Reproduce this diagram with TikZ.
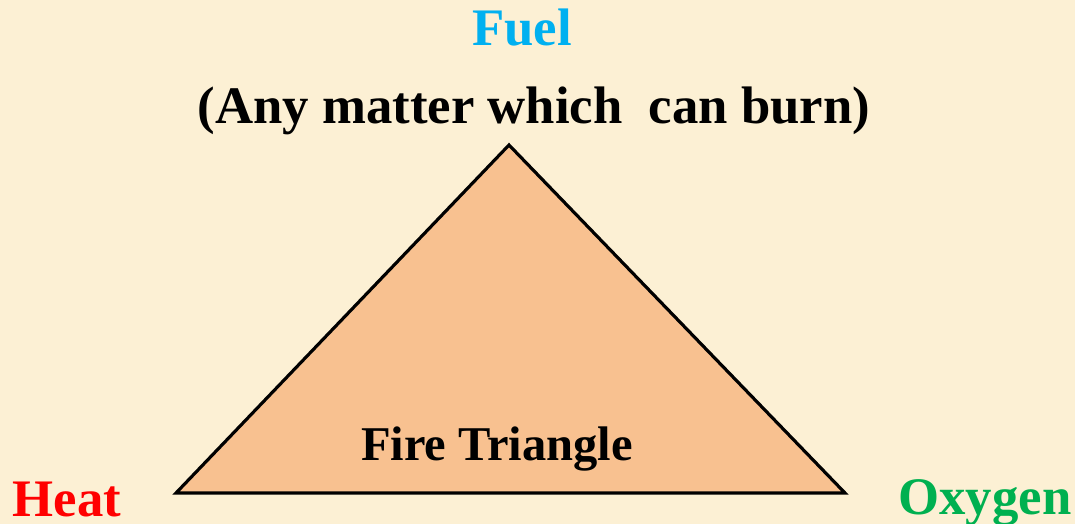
\documentclass[tikz,border=0pt]{standalone}
\usepackage{fontspec}
\setmainfont{Liberation Serif}
\definecolor{paper}{HTML}{FCF0D4}
\definecolor{peach}{HTML}{F8C190}
\definecolor{fuelblue}{HTML}{00B0F0}
\definecolor{heatred}{HTML}{FF0000}
\definecolor{oxgreen}{HTML}{00B050}
\begin{document}
\begin{tikzpicture}[x=0.01cm,y=-0.01cm,line width=0.9pt,
    label/.style={anchor=base,font=\bfseries\fontsize{15}{18}\selectfont,inner sep=0pt}]
  % background
  \fill[paper] (0,0) rectangle (1075,524);
  \useasboundingbox (0,0) rectangle (1075,524);

  \coordinate (T) at (509,145);
  \coordinate (L) at (176,493);
  \coordinate (R) at (845,493);

  % triangle
  \draw[fill=peach,line join=miter] (T) -- (L) -- (R) -- cycle;

  % labels
  \node[label,text=fuelblue] (fuel) at (522,45) {Fuel};
  \node[label] (matter) at (534,123) {(Any matter which \ can burn)};
  \node[label,font=\bfseries\fontsize{13.8}{16}\selectfont] (title) at (497,460) {Fire Triangle};
  \node[label,text=heatred] (heat) at (67,516) {Heat};
  \node[label,text=oxgreen] (oxygen) at (985,514) {Oxygen};
\end{tikzpicture}
\end{document}
